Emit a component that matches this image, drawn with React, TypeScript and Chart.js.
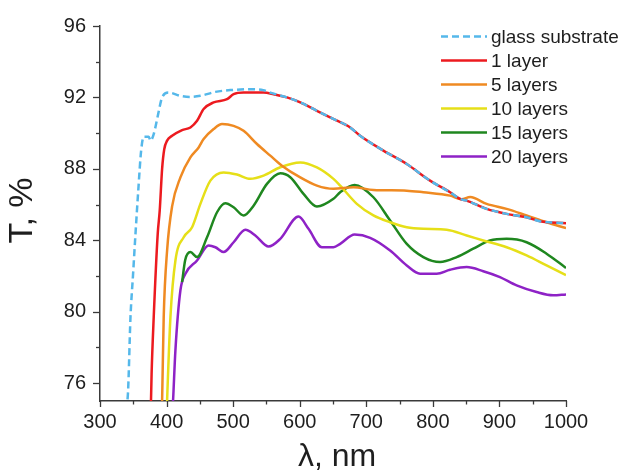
import React, { useEffect, useRef } from 'react';
import { Chart, registerables } from 'chart.js';

Chart.register(...registerables);

// ---- Data (λ in nm, T in %) ----
const glassX = [338, 342, 345.8, 349.5, 353.3, 357.5, 361.8, 365.7, 373.2, 375.8, 380.7, 387, 393.3, 403.2, 420.8, 435.8, 450.8, 473.3, 495.8, 525.8, 545.3, 555.8, 580.8, 600.8, 625.8, 650.3, 675.8, 690.8, 725.7, 760.8, 795.8, 825.8, 840.8, 850.8, 880.8, 910.8, 940.8, 960.8, 1000];
const glassY = [74.5, 75.44, 79.7, 82.0, 84.36, 86.8, 89.02, 89.8, 89.8, 89.58, 89.95, 91.0, 92.0, 92.27, 92.09, 92.03, 92.09, 92.31, 92.41, 92.46, 92.41, 92.27, 92.0, 91.72, 91.25, 90.8, 90.32, 89.85, 89.02, 88.27, 87.34, 86.69, 86.32, 86.22, 85.76, 85.48, 85.29, 85.07, 84.95];

const layer1X = [376.3, 377.5, 380.7, 386.7, 389.7, 393.3, 396.5, 400.8, 408.3, 423.3, 435.8, 445.8, 455.7, 470.7, 490.8, 500.7, 515.7, 545.7, 560.7, 580.8, 600.8, 625.8, 650.3, 675.8, 690.8, 725.7, 760.8, 795.8, 825.8, 840.8, 850.8, 880.8, 910.8, 940.8, 960.8, 1000];
const layer1Y = [74.5, 76.5, 79.7, 84.36, 85.66, 88.0, 89.1, 89.58, 89.85, 90.17, 90.32, 90.69, 91.35, 91.72, 91.9, 92.18, 92.27, 92.27, 92.18, 92.0, 91.72, 91.25, 90.8, 90.32, 89.85, 89.02, 88.27, 87.34, 86.69, 86.32, 86.22, 85.76, 85.48, 85.29, 85.07, 84.95];

const layer5X = [392.8, 393.3, 395.7, 400.8, 408.3, 420.8, 435.8, 448.2, 455.7, 470.7, 483.3, 500.7, 515.7, 535.8, 555.8, 573.3, 600.8, 625.8, 650.7, 680.7, 710.7, 760.8, 785.7, 825.8, 843, 856, 880.8, 910.8, 940.8, 970.8, 1000];
const layer5Y = [74.5, 75.05, 79.7, 83.43, 85.9, 87.52, 88.64, 89.2, 89.67, 90.23, 90.51, 90.41, 90.13, 89.39, 88.74, 88.18, 87.52, 87.06, 86.88, 86.97, 86.82, 86.78, 86.69, 86.5, 86.3, 86.42, 86.04, 85.76, 85.39, 85.01, 84.68];

const layer10X = [400.3, 400.8, 405.8, 413.3, 425.7, 438.3, 450.8, 465.8, 485.7, 505.8, 525.8, 545.7, 570.8, 600.8, 625.8, 650.7, 660.8, 685.8, 710.7, 735.8, 760.8, 785.7, 820.8, 850.8, 875.7, 910.8, 940.8, 970.8, 1000];
const layer10Y = [74.5, 75.05, 79.7, 82.87, 84.17, 84.73, 86.04, 87.34, 87.8, 87.68, 87.44, 87.62, 88.09, 88.36, 88.08, 87.44, 87.06, 86.04, 85.39, 85.01, 84.73, 84.64, 84.59, 84.27, 83.99, 83.61, 83.15, 82.59, 82.05];

const layer15X = [423.3, 428, 435.8, 445.8, 460.8, 475.8, 488.3, 500.7, 515.7, 530.7, 550.8, 570.8, 585.8, 605.7, 625.8, 650.7, 660.8, 682.5, 710.7, 735.8, 760.8, 785.7, 810.8, 835.8, 860.7, 885.8, 910.8, 940.8, 970.8, 1000];
const layer15Y = [81.66, 82.9, 83.34, 83.06, 84.17, 85.57, 86.07, 85.85, 85.39, 85.94, 87.16, 87.75, 87.53, 86.6, 85.89, 86.32, 86.69, 87.1, 86.41, 85.11, 83.8, 83.06, 82.78, 83.06, 83.53, 83.99, 84.08, 83.89, 83.25, 82.45];

const layer20X = [409, 409.8, 413.3, 420.8, 428.3, 445.8, 463.2, 473.3, 485.7, 500.7, 518.3, 533.3, 553.2, 570.8, 598.2, 613.2, 633.3, 650.7, 660.8, 682.5, 705.8, 735.8, 760.8, 780.8, 805.8, 825.8, 850.8, 875.7, 900.8, 925.8, 955.8, 980.7, 1000];
const layer20Y = [74.5, 75.05, 77.85, 81.2, 82.13, 82.87, 83.71, 83.61, 83.34, 83.89, 84.59, 84.27, 83.65, 84.08, 85.33, 84.64, 83.61, 83.61, 83.8, 84.32, 84.14, 83.43, 82.59, 82.13, 82.13, 82.35, 82.5, 82.27, 81.94, 81.47, 81.1, 80.92, 80.97];

const seriesLabels = ['glass substrate', '1 layer', '5 layers', '10 layers', '15 layers', '20 layers'];
const seriesColors = ['#55b8ea', '#ec1a1f', '#ef8a22', '#e6df18', '#1f871f', '#8e22c6'];

const xMajorTicks = [300, 400, 500, 600, 700, 800, 900, 1000];
const xMinorTicks = [350, 450, 550, 650, 750, 850, 950];
const yMajorTicks = [76, 80, 84, 88, 92, 96];
const yMinorTicks = [78, 82, 86, 90, 94];

const xTitle = 'λ, nm';
const yTitle = 'T, %';

const FONT = '"Liberation Sans", Arial, sans-serif';
const AXIS_COLOR = '#3a3a3a';
const TEXT_COLOR = '#1e1e1e';

const toPoints = (xs: number[], ys: number[]) => xs.map((x, i) => ({ x, y: ys[i] }));

const decorPlugin = {
  id: 'decor',
  afterDraw(chart: any) {
    const { ctx, chartArea, scales } = chart;
    const xs = scales.x;
    const ys = scales.y;
    ctx.save();
    ctx.strokeStyle = AXIS_COLOR;
    ctx.lineWidth = 1.3;
    ctx.lineCap = 'butt';
    // x tick marks
    const drawX = (v: number, len: number) => {
      const px = Math.round(xs.getPixelForValue(v)) + 0.5;
      ctx.beginPath();
      ctx.moveTo(px, chartArea.bottom);
      ctx.lineTo(px, chartArea.bottom + len);
      ctx.stroke();
    };
    xMajorTicks.forEach((v) => drawX(v, 6));
    xMinorTicks.forEach((v) => drawX(v, 3.5));
    const drawY = (v: number, len: number) => {
      const py = Math.round(ys.getPixelForValue(v)) + 0.5;
      ctx.beginPath();
      ctx.moveTo(chartArea.left, py);
      ctx.lineTo(chartArea.left - len, py);
      ctx.stroke();
    };
    yMajorTicks.forEach((v) => drawY(v, 7));
    yMinorTicks.forEach((v) => drawY(v, 4));

    // axis titles
    ctx.fillStyle = TEXT_COLOR;
    ctx.font = `32px ${FONT}`;
    ctx.textAlign = 'center';
    ctx.textBaseline = 'alphabetic';
    ctx.fillText(xTitle, (chartArea.left + chartArea.right) / 2 + 4, 466);
    ctx.save();
    ctx.translate(23, (chartArea.top + chartArea.bottom) / 2 - 3);
    ctx.rotate(-Math.PI / 2);
    ctx.font = `34px ${FONT}`;
    ctx.textBaseline = 'middle';
    ctx.fillText(yTitle, 0, 0);
    ctx.restore();

    // legend
    const lx0 = 441;
    const lx1 = 487;
    const ly0 = 36.5;
    const step = 24;
    chart.data.datasets.forEach((ds: any, i: number) => {
      const y = ly0 + i * step;
      ctx.save();
      ctx.strokeStyle = ds.borderColor;
      ctx.lineWidth = 2.5;
      ctx.setLineDash(ds.borderDash || []);
      ctx.beginPath();
      ctx.moveTo(lx0, y);
      ctx.lineTo(lx1, y);
      ctx.stroke();
      ctx.restore();
      ctx.fillStyle = TEXT_COLOR;
      ctx.font = `19px ${FONT}`;
      ctx.textAlign = 'left';
      ctx.textBaseline = 'middle';
      ctx.fillText(ds.label, lx1 + 4, y + 1);
    });
    ctx.restore();
  },
};

export default function App() {
  const canvasRef = useRef<HTMLCanvasElement | null>(null);

  useEffect(() => {
    document.body.style.margin = '0';
    const canvas = canvasRef.current;
    if (!canvas) return;
    const xs = [glassX, layer1X, layer5X, layer10X, layer15X, layer20X];
    const ysArr = [glassY, layer1Y, layer5Y, layer10Y, layer15Y, layer20Y];
    const datasets = seriesLabels.map((label, i) => ({
      label,
      data: toPoints(xs[i], ysArr[i]),
      borderColor: seriesColors[i],
      backgroundColor: seriesColors[i],
      borderWidth: 2.5,
      borderDash: i === 0 ? [7, 4] : [],
      pointRadius: 0,
      fill: false,
      cubicInterpolationMode: 'monotone' as const,
    }));

    const chart = new Chart(canvas, {
      type: 'line',
      data: { datasets },
      plugins: [decorPlugin],
      options: {
        responsive: false,
        animation: false,
        devicePixelRatio: 1,
        layout: { padding: { top: 25, right: 59, left: 0, bottom: 0 } },
        plugins: { legend: { display: false }, tooltip: { enabled: false } },
        scales: {
          x: {
            type: 'linear',
            min: 300,
            max: 1000,
            afterBuildTicks: (s: any) => {
              s.ticks = xMajorTicks.map((v) => ({ value: v }));
            },
            afterFit: (s: any) => {
              s.height = 72;
            },
            grid: { display: true, drawOnChartArea: false, drawTicks: false },
            border: { display: true, color: AXIS_COLOR, width: 1.5 },
            ticks: {
              padding: 9,
              color: TEXT_COLOR,
              font: { family: FONT, size: 20 },
              maxRotation: 0,
              autoSkip: false,
              callback: (v: any) => String(v),
            },
          },
          y: {
            type: 'linear',
            min: 75,
            max: 96,
            afterBuildTicks: (s: any) => {
              s.ticks = yMajorTicks.map((v) => ({ value: v }));
            },
            afterFit: (s: any) => {
              s.width = 100;
            },
            grid: { display: true, drawOnChartArea: false, drawTicks: false },
            border: { display: true, color: AXIS_COLOR, width: 1.5 },
            ticks: {
              padding: 14,
              color: TEXT_COLOR,
              font: { family: FONT, size: 20 },
              autoSkip: false,
              callback: (v: any) => String(v),
            },
          },
        },
      },
    });
    return () => chart.destroy();
  }, []);

  return (
    <div style={{ width: 625, height: 473, background: '#fff' }}>
      <canvas ref={canvasRef} width={625} height={473} style={{ display: 'block', width: 625, height: 473 }} />
    </div>
  );
}
